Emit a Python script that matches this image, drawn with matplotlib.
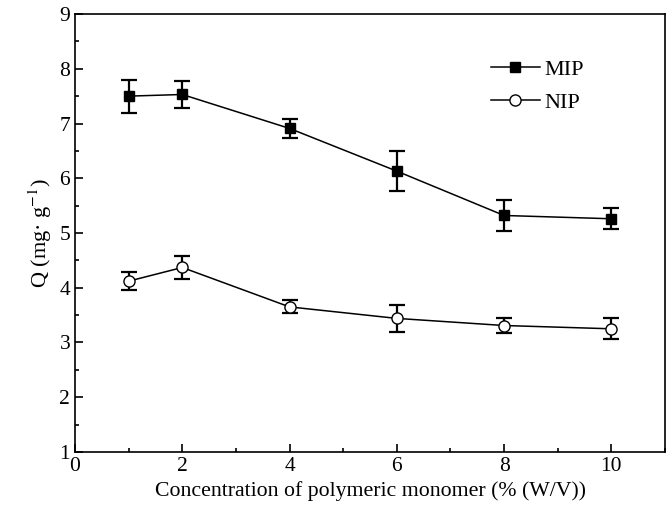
import numpy as np
import matplotlib.pyplot as plt
from matplotlib.ticker import MultipleLocator

plt.rcParams['font.family'] = ['Liberation Serif', 'DejaVu Serif']
plt.rcParams['mathtext.fontset'] = 'stix'

# data
conc = [1, 2, 4, 6, 8, 10]
mip = [7.50, 7.53, 6.91, 6.13, 5.32, 5.26]
mip_err = [0.30, 0.25, 0.17, 0.36, 0.28, 0.19]
nip = [4.12, 4.37, 3.65, 3.44, 3.31, 3.25]
nip_err = [0.16, 0.21, 0.12, 0.25, 0.13, 0.19]

fig = plt.figure(figsize=(6.72, 5.23), dpi=100)
ax = fig.add_axes([0.1116, 0.1358, 0.878, 0.8374])

ax.errorbar(conc, mip, yerr=mip_err, color='black', marker='s', ms=7.5,
            mfc='black', lw=1.1, elinewidth=1.6, capsize=6, capthick=1.6,
            label='MIP')
ax.errorbar(conc, nip, yerr=nip_err, color='black', marker='o', ms=8,
            mfc='white', mec='black', lw=1.1, elinewidth=1.6, capsize=6,
            capthick=1.6, label='NIP')

ax.set_xlim(0, 11)
ax.set_ylim(1, 9)
ax.xaxis.set_major_locator(MultipleLocator(2))
ax.xaxis.set_minor_locator(MultipleLocator(1))
ax.yaxis.set_major_locator(MultipleLocator(1))
ax.yaxis.set_minor_locator(MultipleLocator(0.5))
ax.tick_params(which='both', direction='in', labelsize=15.5, width=1.2)
ax.tick_params(which='major', length=6)
ax.tick_params(which='minor', length=3)
for s in ax.spines.values():
    s.set_linewidth(1.2)

ax.set_xlabel('Concentration of polymeric monomer (% (W/V))', fontsize=15.7)
ax.set_ylabel('Q (mg· g$^{-1}$)', fontsize=16)

handles, labels = ax.get_legend_handles_labels()
ax.legend([h[0] for h in handles], labels, loc='center left',
          bbox_to_anchor=(0.705, 0.835), frameon=False, fontsize=16,
          borderpad=0, borderaxespad=0,
          handlelength=2.2, handletextpad=0.2, labelspacing=0.55)

plt.savefig('out.png', dpi=100)
